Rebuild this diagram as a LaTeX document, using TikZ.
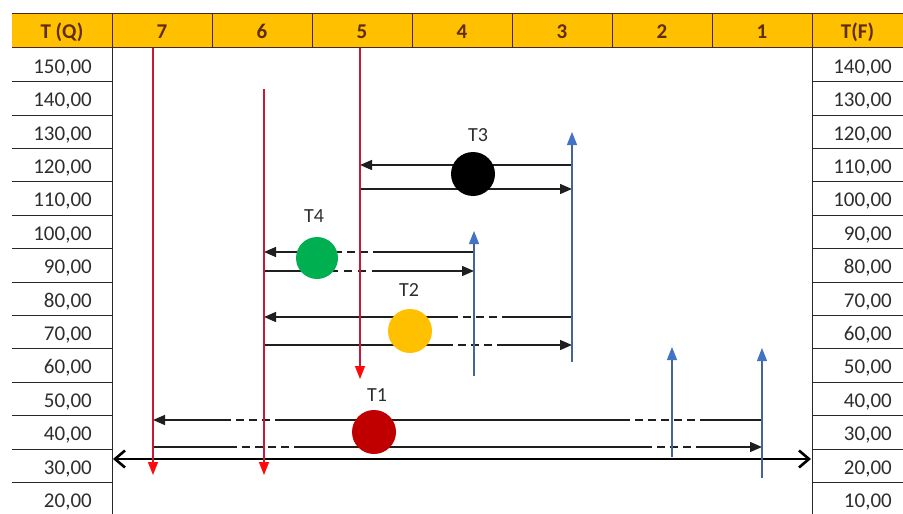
\documentclass[tikz,border=0pt]{standalone}
\usepackage{fontspec}
\setmainfont{Carlito}
\usetikzlibrary{arrows.meta}

\definecolor{hdrfill}{RGB}{255,192,0}
\definecolor{hdrtext}{RGB}{95,45,10}
\definecolor{hdrline}{RGB}{70,40,20}
\definecolor{celltext}{RGB}{45,45,45}
\definecolor{gridline}{RGB}{40,40,40}
\definecolor{hotline}{RGB}{200,25,55}
\definecolor{hottip}{RGB}{255,10,10}
\definecolor{coldline}{RGB}{70,100,150}
\definecolor{coldtip}{RGB}{68,114,196}
\definecolor{tonecol}{RGB}{192,0,0}
\definecolor{ttwocol}{RGB}{255,192,0}
\definecolor{tthreecol}{RGB}{0,0,0}
\definecolor{tfourcol}{RGB}{0,176,80}

\begin{document}
\begin{tikzpicture}[x=1pt,y=-1pt,
  hotstream/.style={draw=hotline, line width=1.1pt,
    -{Triangle[length=13pt,width=10pt,color=hottip]}},
  coldstream/.style={draw=coldline, line width=1.1pt,
    -{Triangle[length=13pt,width=10pt,color=coldtip]}},
  flow/.style={draw=black!88, line width=1.4pt,
    -{Triangle[length=12pt,width=10pt]}},
  cellnum/.style={font=\fontsize{21}{24}\selectfont, text=celltext,
    anchor=base east, inner sep=0pt},
  colhead/.style={font=\fontsize{21}{24}\selectfont\bfseries, text=hdrtext,
    anchor=base, inner sep=0pt},
  tlabel/.style={font=\fontsize{20}{24}\selectfont, text=celltext,
    anchor=base, inner sep=0pt},
  exch/.style={circle, inner sep=0pt, minimum size=44pt}
]
\useasboundingbox (0,0) rectangle (903,514);

% ---------- header band ----------
\fill[hdrfill] (12,13) rectangle (903,47.5);
\draw[hdrline, line width=1pt] (12,13) -- (903,13);
\draw[hdrline, line width=1.3pt] (12,47.5) -- (903,47.5);
\foreach \x in {112,212,...,812}
  \draw[hdrline, line width=1pt] (\x,13) -- (\x,47.5);

\node[colhead] (hq) at (62,38.5) {T (Q)};
\foreach \lab [count=\i from 0] in {7,6,5,4,3,2,1}
  \node[colhead] (h\lab) at (162+100*\i,38.5) {\lab};
\node[colhead] (hf) at (857.5,38.5) {T(F)};

% ---------- temperature columns ----------
\draw[gridline, line width=1pt] (112,47.5) -- (112,514);
\draw[gridline, line width=1pt] (812,47.5) -- (812,514);
\foreach \k in {1,...,13} {
  \draw[gridline, line width=1pt] (12,48.2+33.4*\k) -- (112,48.2+33.4*\k);
  \draw[gridline, line width=1pt] (812,48.2+33.4*\k) -- (903,48.2+33.4*\k);
}
\foreach \k in {0,...,13} {
  \pgfmathtruncatemacro{\tq}{150-10*\k}
  \pgfmathtruncatemacro{\tf}{140-10*\k}
  \node[cellnum] (q\k) at (92,48.2+33.4*\k+25) {\tq,00};
  \node[cellnum] (f\k) at (892,48.2+33.4*\k+25) {\tf,00};
}

% ---------- stream end points ----------
\coordinate (h7a) at (153,48);  \coordinate (h7b) at (153,475);
\coordinate (h6a) at (264,89);  \coordinate (h6b) at (264,475);
\coordinate (h5a) at (360,48);  \coordinate (h5b) at (360,379);
\coordinate (c4a) at (474,376); \coordinate (c4b) at (474,231);
\coordinate (c3a) at (572,362); \coordinate (c3b) at (572,132);
\coordinate (c2a) at (672,457); \coordinate (c2b) at (672,347);
\coordinate (c1a) at (762,478); \coordinate (c1b) at (762,348);

% ---------- exchanger connections ----------
% T3
\coordinate (t3ua) at (572,165); \coordinate (t3ub) at (360,165);
\coordinate (t3la) at (360,189); \coordinate (t3lb) at (572,189);
\draw[flow] (t3ua) -- (t3ub);
\draw[flow] (t3la) -- (t3lb);
% T4
\coordinate (t4ua) at (474,252); \coordinate (t4ub) at (264,252);
\coordinate (t4la) at (264,271); \coordinate (t4lb) at (474,271);
\draw[flow, dash pattern=on 101pt off 5pt on 8pt off 5pt on 8pt off 5pt on 400pt]
  (t4ua) -- (t4ub);
\draw[flow, dash pattern=on 74pt off 6pt on 8pt off 6pt on 8pt off 6pt on 400pt]
  (t4la) -- (t4lb);
% T2
\coordinate (t2ua) at (572,317); \coordinate (t2ub) at (264,317);
\coordinate (t2la) at (264,345); \coordinate (t2lb) at (572,345);
\draw[flow, dash pattern=on 70pt off 5pt on 8pt off 5pt on 8pt off 5pt on 8pt off 5pt on 400pt]
  (t2ua) -- (t2ub);
\draw[flow, dash pattern=on 189pt off 5pt on 8pt off 5pt on 8pt off 5pt on 8pt off 5pt on 400pt]
  (t2la) -- (t2lb);
% T1
\coordinate (t1ua) at (762,420); \coordinate (t1ub) at (153,420);
\coordinate (t1la) at (153,447); \coordinate (t1lb) at (762,447);
\draw[flow, dash pattern=on 62pt off 5pt on 8pt off 5pt on 8pt off 5pt on 8pt off 5pt on 8pt off 5pt on 8pt off 5pt
      on 355pt off 5pt on 8pt off 5pt on 8pt off 5pt on 8pt off 5pt on 400pt]
  (t1ua) -- (t1ub);
\draw[flow, dash pattern=on 84pt off 5pt on 8pt off 5pt on 8pt off 5pt on 8pt off 5pt on 8pt off 5pt
      on 358pt off 5pt on 8pt off 5pt on 8pt off 5pt on 8pt off 5pt on 400pt]
  (t1la) -- (t1lb);

% ---------- overall temperature span ----------
\coordinate (spanl) at (113,459); \coordinate (spanr) at (811,459);
\draw[line width=2.6pt, {Straight Barb[length=10pt,width=17pt]}-{Straight Barb[length=10pt,width=17pt]}]
  (spanl) -- (spanr);

% ---------- hot and cold streams ----------
\draw[hotstream] (h7a) -- (h7b);
\draw[hotstream] (h6a) -- (h6b);
\draw[hotstream] (h5a) -- (h5b);
\draw[coldstream] (c4a) -- (c4b);
\draw[coldstream] (c3a) -- (c3b);
\draw[coldstream] (c2a) -- (c2b);
\draw[coldstream] (c1a) -- (c1b);

% ---------- exchangers ----------
\node[exch, fill=tthreecol] (t3) at (473,174) {};
\node[exch, fill=tfourcol, minimum size=42pt] (t4) at (317,258) {};
\node[exch, fill=ttwocol] (t2) at (410,331) {};
\node[exch, fill=tonecol] (t1) at (374,432) {};
\node[tlabel] (t3l) at (478,141) {T3};
\node[tlabel] (t4l) at (314,222) {T4};
\node[tlabel] (t2l) at (409,296) {T2};
\node[tlabel] (t1l) at (377,401) {T1};
\end{tikzpicture}
\end{document}
